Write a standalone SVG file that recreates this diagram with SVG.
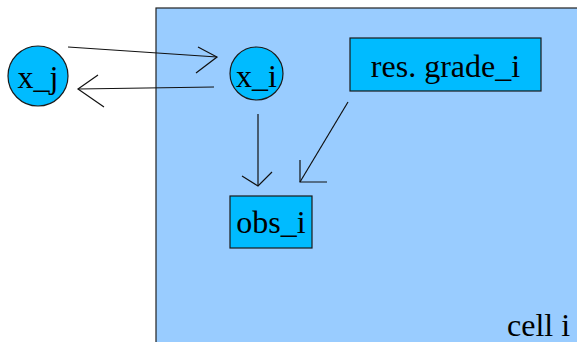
<svg xmlns="http://www.w3.org/2000/svg" width="577" height="342" viewBox="0 0 577 342">
  <style>
    .node { fill: #00bbff; stroke: #1a1a1a; stroke-width: 1.2; }
    .cell { fill: #99ccff; stroke: #222222; stroke-width: 1.2; }
    .lbl { font-family: "Liberation Serif", "Times New Roman", serif; font-size: 32px; fill: #000000; }
    .edge { fill: none; stroke: #111111; stroke-width: 1.2; }
  </style>

  <!-- cell region -->
  <g id="cell">
    <rect class="cell" x="156" y="8" width="430" height="345"/>
    <text class="lbl" x="507" y="336">cell i</text>
  </g>

  <g id="x_j">
    <circle class="node" cx="38" cy="76" r="30"/>
    <text class="lbl" x="38" y="88" text-anchor="middle">x_j</text>
  </g>

  <g id="x_i">
    <circle class="node" cx="256.5" cy="73.5" r="26.5"/>
    <text class="lbl" x="256.5" y="87" text-anchor="middle">x_i</text>
  </g>

  <g id="res_grade_i">
    <rect class="node" x="350" y="38" width="191" height="53"/>
    <text class="lbl" x="445.5" y="77" text-anchor="middle">res. grade_i</text>
  </g>

  <g id="obs_i">
    <rect class="node" x="230" y="196" width="82" height="52"/>
    <text class="lbl" x="271" y="233" text-anchor="middle">obs_i</text>
  </g>

  <!-- connectors with open chevron heads -->
  <g id="connectors">
    <line class="edge" x1="68" y1="47" x2="217" y2="57"/>
    <polyline class="edge" points="198,47 217,57 196,73"/>

    <line class="edge" x1="214" y1="87" x2="78" y2="89"/>
    <polyline class="edge" points="98,75 78,89 104,107"/>

    <line class="edge" x1="258" y1="114" x2="258" y2="186"/>
    <polyline class="edge" points="242,176 258,186 272,172"/>

    <line class="edge" x1="348" y1="102" x2="300" y2="182"/>
    <polyline class="edge" points="300,160 300,182 327,182"/>
  </g>
</svg>
